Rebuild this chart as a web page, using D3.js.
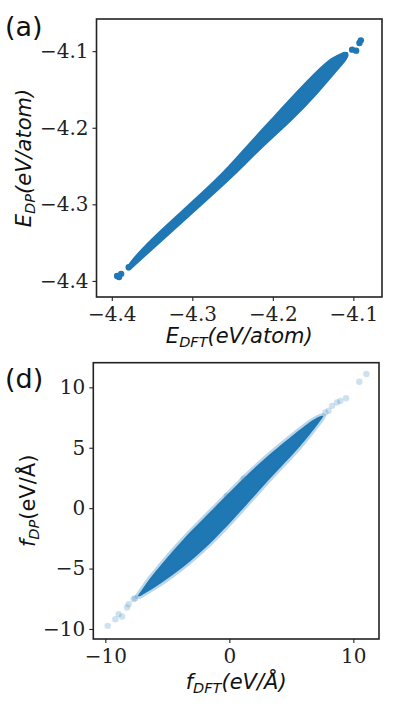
<!DOCTYPE html>
<html>
<head>
<meta charset="utf-8">
<script src="https://cdn.jsdelivr.net/npm/d3@7"></script>
<style>
  body { margin: 0; background: white; }
  svg { display: block; }
</style>
</head>
<body>
<svg id="chart"></svg>
<script>
const width = 396;
const height = 710;

// panel (a) : energies, eV/atom
const eTicks = [-4.4, -4.3, -4.2, -4.1];
// dense band read row by row: E_DP value, left and right E_DFT edge
const eBandY  = [-4.3850, -4.3804, -4.3464, -4.3029, -4.2592, -4.2288, -4.1895, -4.1546, -4.1242, -4.1085, -4.1025];
const eBandLo = [-4.3800, -4.3810, -4.3520, -4.3060, -4.2610, -4.2360, -4.2015, -4.1710, -4.1430, -4.1260, -4.1125];
const eBandHi = [-4.3785, -4.3730, -4.3375, -4.2915, -4.2455, -4.2180, -4.1760, -4.1445, -4.1205, -4.1068, -4.1080];
// separate points
const eOutX = [-4.3934, -4.3884, -4.3910, -4.3790, -4.1015, -4.0965, -4.0924, -4.0907, -4.1100];
const eOutY = [-4.3935, -4.3908, -4.3948, -4.3820, -4.0980, -4.0993, -4.0893, -4.0859, -4.1050];

// panel (d) : forces, eV/A
const fTicksX = [-10, 0, 10];
const fTicksY = [-10, -5, 0, 5, 10];
const fBandY  = [-7.30, -6.71, -5.88, -4.64, -2.57, -0.50, 3.23, 4.88, 7.37, 7.65];
const fBandLo = [-7.42, -7.02, -6.46, -5.47, -3.75, -1.72, 1.85, 3.73, 6.72, 7.45];
const fBandHi = [-7.22, -6.22, -5.02, -3.37, -1.15, 0.72, 3.95, 5.57, 7.48, 7.60];
const fOutX = [11.05, 10.48, 9.41, 8.95, 8.68, 8.28, 8.00, 7.74, 1.15, -0.19, -7.60, -7.72, -8.12, -8.25, -8.65, -8.93, -9.19, -9.81];
const fOutY = [11.10, 10.46, 9.10, 8.88, 8.75, 8.47, 8.06, 7.92, 2.46, 1.02, -7.45, -7.53, -7.95, -8.22, -8.97, -8.77, -9.19, -9.74];

const blue = "#1f77b4";
const tickFont = "'DejaVu Serif', serif";
const labelFont = "'DejaVu Sans', sans-serif";

const svg = d3.select("#chart")
  .attr("width", width)
  .attr("height", height);

function panel(opts) {
  const x = d3.scaleLinear().domain(opts.xDomain).range([opts.left, opts.right]);
  const y = d3.scaleLinear().domain(opts.yDomain).range([opts.bottom, opts.top]);
  const g = svg.append("g");

  // band of overlapping points
  const rows = opts.bandY.map((v, i) => ({ y: v, lo: opts.bandLo[i], hi: opts.bandHi[i] }));
  const area = d3.area()
    .y(d => y(d.y))
    .x0(d => x(d.lo))
    .x1(d => x(d.hi))
    .curve(d3.curveBasis);
  g.append("path")
    .datum(rows)
    .attr("d", area)
    .attr("fill", blue)
    .attr("stroke", blue)
    .attr("stroke-width", opts.fringe)
    .attr("stroke-opacity", opts.fringeOpacity)
    .attr("stroke-linejoin", "round");

  const pts = opts.outX.map((v, i) => ({ x: v, y: opts.outY[i] }));
  g.append("g")
    .selectAll("circle")
    .data(pts)
    .enter().append("circle")
      .attr("cx", d => x(d.x))
      .attr("cy", d => y(d.y))
      .attr("r", opts.r)
      .attr("fill", blue)
      .attr("fill-opacity", opts.alpha);

  // axes
  const xAxis = d3.axisBottom(x).tickValues(opts.xTicks).tickSize(4).tickPadding(4)
    .tickFormat(opts.fmt);
  const yAxis = d3.axisLeft(y).tickValues(opts.yTicks).tickSize(4).tickPadding(4)
    .tickFormat(opts.fmt);

  const gx = g.append("g").attr("transform", `translate(0,${opts.bottom})`).call(xAxis);
  const gy = g.append("g").attr("transform", `translate(${opts.left},0)`).call(yAxis);
  [gx, gy].forEach(a => {
    a.select(".domain").remove();
    a.selectAll(".tick line").attr("stroke", "#222").attr("stroke-width", 1.1);
    a.selectAll("text")
      .attr("font-family", tickFont)
      .attr("font-size", 20)
      .attr("fill", "#222");
  });
  gx.selectAll("text").attr("y", 24).attr("dy", 0);

  g.append("rect")
    .attr("x", opts.left)
    .attr("y", opts.top)
    .attr("width", opts.right - opts.left)
    .attr("height", opts.bottom - opts.top)
    .attr("fill", "none")
    .attr("stroke", "#222")
    .attr("stroke-width", 1.6);

  // panel letter
  svg.append("text")
    .attr("x", 5)
    .attr("y", opts.letterY)
    .attr("font-family", labelFont)
    .attr("font-size", 27)
    .attr("fill", "#111")
    .text(opts.letter);

  // x label
  const xl = svg.append("text")
    .attr("x", (opts.left + opts.right) / 2)
    .attr("y", opts.xLabelY)
    .attr("text-anchor", "middle")
    .attr("font-family", labelFont)
    .attr("font-size", 21)
    .attr("fill", "#111");
  xl.append("tspan").attr("font-style", "italic").text(opts.sym);
  xl.append("tspan").attr("font-style", "italic").attr("font-size", 14.5).attr("dy", 4).text("DFT");
  xl.append("tspan").attr("font-style", "italic").attr("dy", -4).text(opts.unit);

  // y label
  const cy = (opts.top + opts.bottom) / 2;
  const yl = svg.append("text")
    .attr("transform", `translate(${opts.yLabelX},${cy}) rotate(-90)`)
    .attr("text-anchor", "middle")
    .attr("font-family", labelFont)
    .attr("font-size", 21)
    .attr("fill", "#111");
  yl.append("tspan").attr("font-style", "italic").text(opts.sym);
  yl.append("tspan").attr("font-style", "italic").attr("font-size", 14.5).attr("dy", 4).text("DP");
  yl.append("tspan").attr("font-style", opts.yUnitStyle).attr("dy", -4).text(opts.unit);
}

const minusFmt = d => d3.format(".1f")(d).replace("-", "\u2212");
const intFmt = d => String(d).replace("-", "\u2212");

panel({
  left: 96.5, right: 382, top: 19, bottom: 297,
  xDomain: [-4.419, -4.0644], yDomain: [-4.421, -4.058],
  xTicks: eTicks, yTicks: eTicks, fmt: minusFmt,
  bandY: eBandY, bandLo: eBandLo, bandHi: eBandHi,
  fringe: 2, fringeOpacity: 1,
  outX: eOutX, outY: eOutY, r: 3.2, alpha: 1,
  letter: "(a)", letterY: 36,
  sym: "E", unit: "(eV/atom)", yUnitStyle: "italic",
  xLabelY: 343, yLabelX: 31
});

panel({
  left: 93.3, right: 379, top: 362.7, bottom: 639,
  xDomain: [-10.97, 12.07], yDomain: [-10.83, 12.04],
  xTicks: fTicksX, yTicks: fTicksY, fmt: intFmt,
  bandY: fBandY, bandLo: fBandLo, bandHi: fBandHi,
  fringe: 5, fringeOpacity: 0.3,
  outX: fOutX, outY: fOutY, r: 3.2, alpha: 0.22,
  letter: "(d)", letterY: 388,
  sym: "f", unit: "(eV/\u00c5)", yUnitStyle: "normal",
  xLabelY: 689, yLabelX: 35
});
</script>
</body>
</html>
